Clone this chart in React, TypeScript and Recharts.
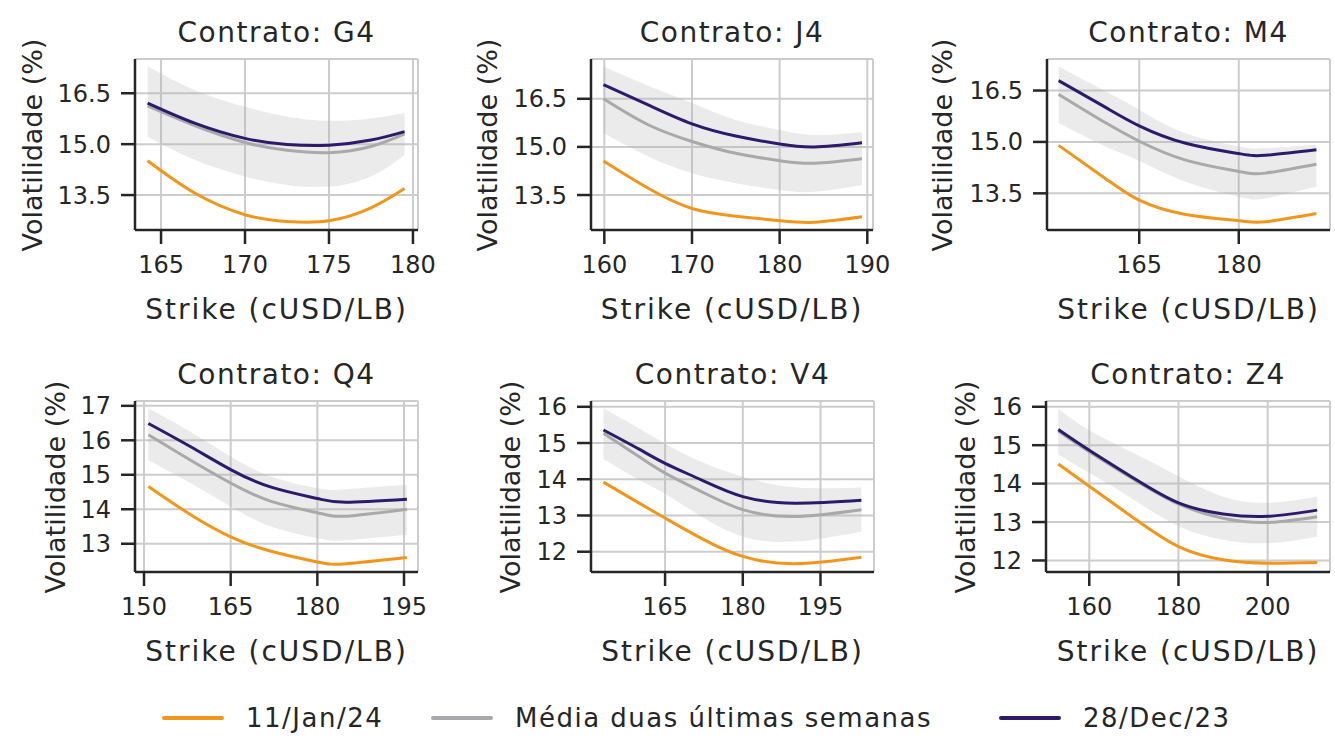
import React from 'react';
import { ComposedChart, Line, Area, XAxis, YAxis, CartesianGrid } from 'recharts';

// Volatility smile per contract: 11/Jan/24 vs 2-week mean (+ band) vs 28/Dec/23

const ORANGE = '#f2961b';
const GRAY = '#a9a9ab';
const PURPLE = '#2e1a6b';
const INK = '#262626';
const FONT = '"DejaVu Sans", sans-serif';

// ---- G4 ----
const g4Strike = [164.2, 167, 170, 172.5, 175, 177.5, 179.5];
const g4Jan11 = [14.51, 13.56, 12.92, 12.72, 12.74, 13.12, 13.69];
const g4Media = [16.13, 15.55, 15.05, 14.82, 14.75, 14.93, 15.3];
const g4Dec28 = [16.21, 15.62, 15.17, 14.99, 14.97, 15.12, 15.37];
const g4BandLo = [15.22, 14.54, 14.05, 13.8, 13.75, 14.05, 14.69];
const g4BandHi = [17.3, 16.6, 16.1, 15.81, 15.69, 15.76, 15.91];
const g4XTicks = [165, 170, 175, 180];
const g4YTicks = [13.5, 15.0, 16.5];

// ---- J4 ----
const j4Strike = [159.9, 165, 170, 175, 180, 184, 189.4];
const j4Jan11 = [14.56, 13.71, 13.08, 12.84, 12.7, 12.65, 12.82];
const j4Media = [16.5, 15.69, 15.17, 14.8, 14.57, 14.49, 14.63];
const j4Dec28 = [16.94, 16.31, 15.72, 15.34, 15.09, 15.0, 15.13];
const j4BandLo = [15.43, 14.7, 14.18, 13.87, 13.66, 13.6, 13.81];
const j4BandHi = [17.51, 16.91, 16.37, 15.84, 15.53, 15.37, 15.46];
const j4XTicks = [160, 170, 180, 190];
const j4YTicks = [13.5, 15.0, 16.5];

// ---- M4 ----
const m4Strike = [152.85, 160, 165, 172, 180, 184, 191.7];
const m4Jan11 = [14.9, 13.92, 13.3, 12.88, 12.7, 12.67, 12.91];
const m4Media = [16.39, 15.55, 15.02, 14.47, 14.14, 14.09, 14.35];
const m4Dec28 = [16.79, 16.0, 15.47, 14.96, 14.66, 14.61, 14.77];
const m4BandLo = [15.55, 14.86, 14.45, 13.84, 13.4, 13.35, 13.69];
const m4BandHi = [17.2, 16.47, 15.94, 15.25, 14.87, 14.82, 14.92];
const m4XTicks = [165, 180];
const m4YTicks = [13.5, 15.0, 16.5];

// ---- Q4 ----
const q4Strike = [150.75, 158, 165, 172, 180, 185, 195.5];
const q4Jan11 = [14.66, 13.85, 13.2, 12.78, 12.47, 12.42, 12.6];
const q4Media = [16.16, 15.43, 14.76, 14.23, 13.9, 13.8, 14.0];
const q4Dec28 = [16.49, 15.82, 15.15, 14.64, 14.31, 14.2, 14.29];
const q4BandLo = [15.43, 14.76, 14.08, 13.5, 13.16, 13.1, 13.26];
const q4BandHi = [16.92, 16.25, 15.53, 14.95, 14.61, 14.58, 14.71];
const q4XTicks = [150, 165, 180, 195];
const q4YTicks = [13, 14, 15, 16, 17];

// ---- V4 ----
const v4Strike = [153.1, 160, 165, 172, 180, 190, 202.9];
const v4Jan11 = [13.92, 13.34, 12.93, 12.37, 11.87, 11.67, 11.85];
const v4Media = [15.27, 14.62, 14.17, 13.66, 13.16, 12.97, 13.16];
const v4Dec28 = [15.36, 14.83, 14.44, 13.98, 13.52, 13.34, 13.42];
const v4BandLo = [14.56, 13.98, 13.6, 12.97, 12.42, 12.28, 12.56];
const v4BandHi = [15.96, 15.4, 14.98, 14.48, 14.07, 13.78, 13.77];
const v4XTicks = [165, 180, 195];
const v4YTicks = [12, 13, 14, 15, 16];

// ---- Z4 ----
const z4Strike = [153.05, 160, 170, 180, 190, 200, 211.1];
const z4Jan11 = [14.51, 13.93, 13.1, 12.36, 12.02, 11.93, 11.95];
const z4Media = [15.37, 14.83, 14.11, 13.47, 13.1, 12.99, 13.14];
const z4Dec28 = [15.41, 14.87, 14.14, 13.5, 13.21, 13.15, 13.31];
const z4BandLo = [14.76, 14.28, 13.58, 12.89, 12.54, 12.45, 12.62];
const z4BandHi = [15.94, 15.39, 14.79, 14.19, 13.66, 13.5, 13.66];
const z4XTicks = [160, 180, 200];
const z4YTicks = [12, 13, 14, 15, 16];

const YW = 80;
const XH = 50;
const MT = 20;
const MR = 30;

type Panel = {
  title: string;
  strike: number[];
  jan: number[];
  media: number[];
  dec: number[];
  lo: number[];
  hi: number[];
  xTicks: number[];
  yTicks: number[];
  xDomain: [number, number];
  yDomain: [number, number];
  decimals: number;
  box: { x: number; y: number; w: number; h: number };
  yLabelX: number;
};

const panels: Panel[] = [
  { title: 'Contrato: G4', strike: g4Strike, jan: g4Jan11, media: g4Media, dec: g4Dec28, lo: g4BandLo, hi: g4BandHi,
    xTicks: g4XTicks, yTicks: g4YTicks, xDomain: [163.45, 180.3], yDomain: [12.47, 17.51], decimals: 1,
    box: { x: 135, y: 59, w: 283, h: 171 }, yLabelX: 32 },
  { title: 'Contrato: J4', strike: j4Strike, jan: j4Jan11, media: j4Media, dec: j4Dec28, lo: j4BandLo, hi: j4BandHi,
    xTicks: j4XTicks, yTicks: j4YTicks, xDomain: [158.48, 190.65], yDomain: [12.41, 17.74], decimals: 1,
    box: { x: 591, y: 59, w: 282, h: 171 }, yLabelX: 487 },
  { title: 'Contrato: M4', strike: m4Strike, jan: m4Jan11, media: m4Media, dec: m4Dec28, lo: m4BandLo, hi: m4BandHi,
    xTicks: m4XTicks, yTicks: m4YTicks, xDomain: [151.1, 193.75], yDomain: [12.43, 17.42], decimals: 1,
    box: { x: 1047, y: 59, w: 283, h: 171 }, yLabelX: 942 },
  { title: 'Contrato: Q4', strike: q4Strike, jan: q4Jan11, media: q4Media, dec: q4Dec28, lo: q4BandLo, hi: q4BandHi,
    xTicks: q4XTicks, yTicks: q4YTicks, xDomain: [148.44, 197.42], yDomain: [12.18, 17.14], decimals: 0,
    box: { x: 135, y: 401, w: 283, h: 171 }, yLabelX: 55 },
  { title: 'Contrato: V4', strike: v4Strike, jan: v4Jan11, media: v4Media, dec: v4Dec28, lo: v4BandLo, hi: v4BandHi,
    xTicks: v4XTicks, yTicks: v4YTicks, xDomain: [150.7, 205.33], yDomain: [11.44, 16.16], decimals: 0,
    box: { x: 591, y: 401, w: 283, h: 171 }, yLabelX: 510 },
  { title: 'Contrato: Z4', strike: z4Strike, jan: z4Jan11, media: z4Media, dec: z4Dec28, lo: z4BandLo, hi: z4BandHi,
    xTicks: z4XTicks, yTicks: z4YTicks, xDomain: [150.3, 213.97], yDomain: [11.7, 16.15], decimals: 0,
    box: { x: 1046, y: 401, w: 284, h: 171 }, yLabelX: 965 },
];

const tickStyle = { fill: INK, fontSize: 24, fontFamily: FONT };
const axisStroke = { stroke: INK, strokeWidth: 2.5 };

function SmilePanel({ p }: { p: Panel }) {
  const data = p.strike.map((s, i) => ({
    strike: s,
    jan: p.jan[i],
    media: p.media[i],
    dec: p.dec[i],
    band: [p.lo[i], p.hi[i]],
  }));
  const { x, y, w, h } = p.box;
  const cx = x + w / 2;
  const cy = y + h / 2;
  // the right-hand panels touch the page edge, so trim the chart width there
  const chartW = Math.min(YW + w + MR, 1335 - (x - YW));
  return (
    <>
      <div style={{ position: 'absolute', left: x - YW, top: y - MT }}>
        <ComposedChart
          width={chartW}
          height={MT + h + XH}
          data={data}
          margin={{ top: MT, right: chartW - YW - w, bottom: 0, left: 0 }}
        >
          <CartesianGrid stroke="#cccccc" strokeWidth={2} />
          <XAxis
            type="number"
            dataKey="strike"
            domain={p.xDomain}
            ticks={p.xTicks}
            interval={0}
            allowDataOverflow
            height={XH}
            tick={tickStyle}
            tickSize={14}
            tickMargin={12}
            axisLine={axisStroke}
            tickLine={axisStroke}
          />
          <YAxis
            type="number"
            domain={p.yDomain}
            ticks={p.yTicks}
            interval={0}
            allowDataOverflow
            width={YW}
            tick={tickStyle}
            tickSize={14}
            tickMargin={10}
            tickFormatter={(v: number) => v.toFixed(p.decimals)}
            axisLine={axisStroke}
            tickLine={axisStroke}
          />
          <Area type="natural" dataKey="band" fill="#b0b0b0" fillOpacity={0.25} stroke="none" isAnimationActive={false} />
          <Line type="natural" dataKey="jan" stroke={ORANGE} strokeWidth={3} dot={false} isAnimationActive={false} />
          <Line type="natural" dataKey="media" stroke={GRAY} strokeWidth={3} dot={false} isAnimationActive={false} />
          <Line type="natural" dataKey="dec" stroke={PURPLE} strokeWidth={3} dot={false} isAnimationActive={false} />
        </ComposedChart>
      </div>
      <div style={{ ...centered(cx, y - 26), fontSize: 28, letterSpacing: 1.5 }}>{p.title}</div>
      <div style={{ ...centered(cx, y + h + 80), fontSize: 28, letterSpacing: 2 }}>Strike (cUSD/LB)</div>
      <div style={{ ...centered(p.yLabelX, cy), fontSize: 27, transform: 'translate(-50%, -50%) rotate(-90deg)' }}>
        Volatilidade (%)
      </div>
    </>
  );
}

function centered(x: number, y: number): React.CSSProperties {
  return {
    position: 'absolute',
    left: x,
    top: y,
    transform: 'translate(-50%, -50%)',
    whiteSpace: 'nowrap',
    color: INK,
    fontFamily: FONT,
    lineHeight: 1,
  };
}

const legendItems = [
  { label: '11/Jan/24', color: ORANGE, x: 162 },
  { label: 'Média duas últimas semanas', color: GRAY, x: 431 },
  { label: '28/Dec/23', color: PURPLE, x: 999 },
];

export default function App() {
  return (
    <div style={{ position: 'absolute', left: 0, top: 0, width: 1335, height: 742, background: '#fff', overflow: 'hidden' }}>
      {panels.map((p) => (
        <SmilePanel key={p.title} p={p} />
      ))}
      {legendItems.map((it) => (
        <React.Fragment key={it.label}>
          <div style={{ position: 'absolute', left: it.x, top: 716, width: 62, height: 4, background: it.color, borderRadius: 2 }} />
          <div
            style={{
              position: 'absolute',
              left: it.x + 84,
              top: 718,
              transform: 'translateY(-50%)',
              fontSize: 26,
              letterSpacing: 1.5,
              fontFamily: FONT,
              color: INK,
              whiteSpace: 'nowrap',
              lineHeight: 1,
            }}
          >
            {it.label}
          </div>
        </React.Fragment>
      ))}
    </div>
  );
}
